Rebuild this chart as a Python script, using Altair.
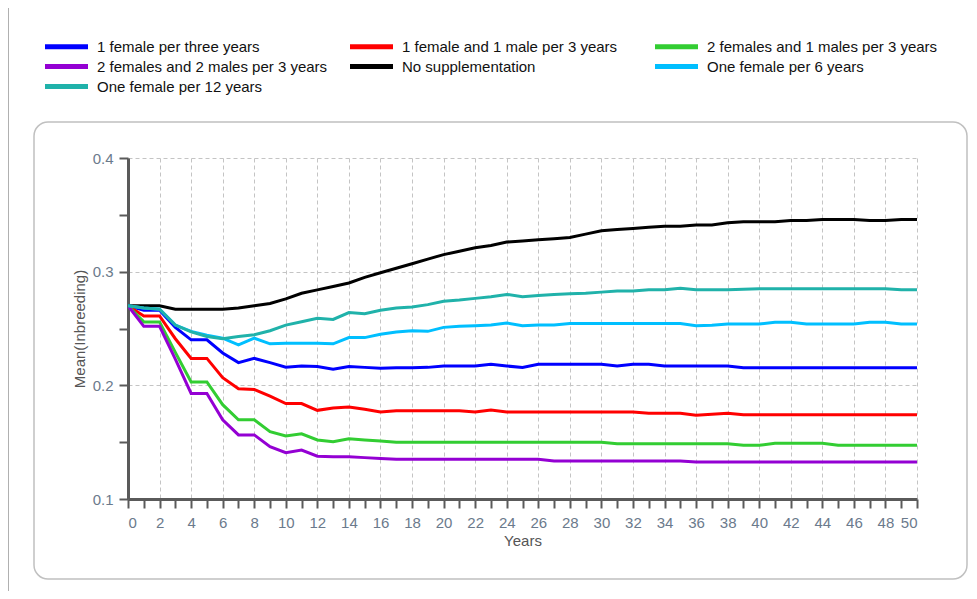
import altair as alt
import pandas as pd

years = list(range(51))

series_names = [
    "1 female per three years",
    "1 female and 1 male per 3 years",
    "2 females and 1 males per 3 years",
    "2 females and 2 males per 3 years",
    "No supplementation",
    "One female per 6 years",
    "One female per 12 years",
]
series_colors = ["#0000FF", "#FF0000", "#32CD32", "#9400D3", "#000000", "#00BFFF", "#20B2AA"]

one_female_3y = [0.270, 0.266, 0.266, 0.251, 0.240, 0.240, 0.2285, 0.220, 0.2237, 0.220,
                 0.216, 0.217, 0.2166, 0.2142, 0.2166, 0.2158, 0.215, 0.2155, 0.2155, 0.2158,
                 0.217, 0.217, 0.217, 0.2185, 0.217, 0.2158, 0.2185, 0.2185, 0.2185, 0.2185,
                 0.2185, 0.217, 0.2185, 0.2185, 0.217, 0.217, 0.217, 0.217, 0.217, 0.2155,
                 0.2155, 0.2155, 0.2155, 0.2155, 0.2155, 0.2155, 0.2155, 0.2155, 0.2155, 0.2155,
                 0.2155]
one_f_one_m_3y = [0.270, 0.261, 0.261, 0.241, 0.2237, 0.2237, 0.2068, 0.197, 0.1964, 0.1905,
                  0.184, 0.184, 0.178, 0.1801, 0.181, 0.1789, 0.1765, 0.1777, 0.1777, 0.1777,
                  0.1777, 0.1777, 0.1765, 0.1783, 0.1765, 0.1765, 0.1765, 0.1765, 0.1765, 0.1765,
                  0.1765, 0.1765, 0.1765, 0.1754, 0.1754, 0.1754, 0.1736, 0.1745, 0.1755, 0.1742,
                  0.1742, 0.1742, 0.1742, 0.1742, 0.1742, 0.1742, 0.1742, 0.1742, 0.1742, 0.1742,
                  0.1742]
two_f_one_m_3y = [0.270, 0.2558, 0.2558, 0.229, 0.203, 0.203, 0.183, 0.1697, 0.1697, 0.1593,
                  0.1555, 0.1573, 0.1519, 0.1504, 0.153, 0.152, 0.151, 0.150, 0.150, 0.150,
                  0.150, 0.150, 0.150, 0.150, 0.150, 0.150, 0.150, 0.150, 0.150, 0.150,
                  0.150, 0.1487, 0.1487, 0.1487, 0.1487, 0.1487, 0.1487, 0.1487, 0.1487, 0.1472,
                  0.1472, 0.149, 0.149, 0.149, 0.149, 0.1472, 0.1472, 0.1472, 0.1472, 0.1472,
                  0.1472]
two_f_two_m_3y = [0.270, 0.2519, 0.2519, 0.2231, 0.1929, 0.1929, 0.1697, 0.1564, 0.1564, 0.146,
                  0.1407, 0.143, 0.1377, 0.1371, 0.1371, 0.1364, 0.1356, 0.1349, 0.1349, 0.1349,
                  0.1349, 0.1349, 0.1349, 0.1349, 0.1349, 0.1349, 0.1349, 0.1334, 0.1334, 0.1334,
                  0.1334, 0.1334, 0.1334, 0.1334, 0.1334, 0.1334, 0.1326, 0.1326, 0.1326, 0.1326,
                  0.1326, 0.1326, 0.1326, 0.1326, 0.1326, 0.1326, 0.1326, 0.1326, 0.1326, 0.1326,
                  0.1326]
no_supplementation = [0.270, 0.270, 0.270, 0.267, 0.267, 0.267, 0.267, 0.268, 0.270, 0.272,
                      0.276, 0.281, 0.284, 0.287, 0.290, 0.295, 0.299, 0.303, 0.307, 0.311,
                      0.315, 0.318, 0.321, 0.323, 0.326, 0.327, 0.328, 0.329, 0.330, 0.333,
                      0.336, 0.337, 0.338, 0.339, 0.340, 0.340, 0.341, 0.341, 0.343, 0.344,
                      0.344, 0.344, 0.345, 0.345, 0.346, 0.346, 0.346, 0.345, 0.345, 0.346,
                      0.346]
one_female_6y = [0.270, 0.268, 0.267, 0.253, 0.2475, 0.244, 0.2415, 0.2356, 0.2415, 0.2365,
                 0.237, 0.237, 0.237, 0.2365, 0.242, 0.242, 0.245, 0.247, 0.248, 0.2475,
                 0.251, 0.252, 0.2525, 0.253, 0.2548, 0.2525, 0.253, 0.253, 0.2543, 0.2543,
                 0.2543, 0.2543, 0.2543, 0.2543, 0.2543, 0.2543, 0.2525, 0.2528, 0.254, 0.254,
                 0.254, 0.2554, 0.2554, 0.254, 0.254, 0.254, 0.254, 0.2555, 0.2555, 0.254,
                 0.254]
one_female_12y = [0.270, 0.268, 0.267, 0.253, 0.247, 0.243, 0.241, 0.243, 0.2445, 0.248,
                  0.253, 0.256, 0.259, 0.258, 0.264, 0.263, 0.266, 0.268, 0.269, 0.271,
                  0.274, 0.275, 0.2765, 0.278, 0.280, 0.278, 0.279, 0.280, 0.2805, 0.281,
                  0.282, 0.283, 0.283, 0.284, 0.284, 0.2855, 0.284, 0.284, 0.284, 0.2845,
                  0.285, 0.285, 0.285, 0.285, 0.285, 0.285, 0.285, 0.285, 0.285, 0.284,
                  0.284]

x_ticks = list(range(0, 51))
y_ticks = [0.1, 0.15, 0.2, 0.25, 0.3, 0.35, 0.4]

all_series = [one_female_3y, one_f_one_m_3y, two_f_one_m_3y, two_f_two_m_3y,
              no_supplementation, one_female_6y, one_female_12y]

rows = []
for name, vals in zip(series_names, all_series):
    for yr, v in zip(years, vals):
        rows.append({"Years": yr, "Inbreeding": v, "Series": name})
df = pd.DataFrame(rows)

# legend grid in Vega fills column-wise here; reorder the domain so the
# entries read row by row as in the reference
order_idx = [0, 3, 5, 1, 4, 6, 2]
legend_domain = [series_names[i] for i in order_idx]
legend_colors = [series_colors[i] for i in order_idx]

FONT = "Liberation Sans"
AXIS_COLOR = "#5a5a5a"
LABEL_COLOR = "#6b7a8c"
GRID_COLOR = "#c4c4c4"

box = alt.Chart(alt.Data(values=[{"a": 1}])).mark_rect(
    fill="transparent", stroke="#c0c0c0", strokeWidth=1.5, cornerRadius=14
).encode(
    x=alt.value(-94), x2=alt.value(839), y=alt.value(-36), y2=alt.value(421)
)

frame = alt.Chart(alt.Data(values=[{"a": 1}])).mark_rule(
    color="#b0b0b0", strokeWidth=1
).encode(
    x=alt.value(-119.5), y=alt.value(-150), y2=alt.value(445)
)

lines = alt.Chart(df).mark_line(strokeWidth=3, clip=True).encode(
    x=alt.X(
        "Years:Q",
        scale=alt.Scale(domain=[0, 50], nice=False, zero=False),
        axis=alt.Axis(
            title="Years",
            values=x_ticks,
            labelExpr="datum.value % 2 == 0 ? datum.label : ''",
            labelOverlap=False,
            gridOpacity={"condition": {"test": "datum.value % 2 == 0", "value": 1}, "value": 0},
        ),
    ),
    y=alt.Y(
        "Inbreeding:Q",
        scale=alt.Scale(domain=[0.1, 0.4], nice=False, zero=False),
        axis=alt.Axis(
            title="Mean(Inbreeding)",
            values=y_ticks,
            format=".1f",
            labelExpr="abs(datum.value * 10 - round(datum.value * 10)) < 0.001 ? datum.label : ''",
            labelOverlap=False,
            gridOpacity={"condition": {"test": "abs(datum.value * 10 - round(datum.value * 10)) < 0.001", "value": 1}, "value": 0},
        ),
    ),
    color=alt.Color(
        "Series:N",
        scale=alt.Scale(domain=legend_domain, range=legend_colors),
        legend=alt.Legend(
            title=None,
            orient="none",
            legendX=-69,
            legendY=-119,
            columns=3,
            gridAlign="all",
            columnPadding=12,
            rowPadding=-1,
            symbolType="M-4.3,0H4.3",
            symbolSize=100,
            symbolStrokeWidth=5,
            labelOffset=23,
            labelFont=FONT,
            labelFontSize=15,
            labelColor="#111111",
            labelLimit=400,
            padding=0,
        ),
    ),
)

chart = alt.layer(box, frame, lines).properties(
    width=789,
    height=341,
    autosize=alt.AutoSizeParams(type="none"),
    padding={"left": 120, "top": 150, "right": 52, "bottom": 92},
    background="white",
).configure_view(
    stroke=None
).configure_axis(
    domainColor=AXIS_COLOR,
    domainWidth=3,
    tickColor=AXIS_COLOR,
    tickWidth=2,
    tickSize=9,
    labelFont=FONT,
    labelFontSize=15,
    labelColor=LABEL_COLOR,
    titleFont=FONT,
    titleFontSize=15,
    titleFontWeight="normal",
    titleColor="#555555",
    gridColor=GRID_COLOR,
    gridDash=[4, 3],
    gridWidth=1,
).configure_axisX(
    labelPadding=7,
    titlePadding=3,
).configure_axisY(
    labelPadding=6,
    titlePadding=5,
)

chart.save("out.html", embed_options={"renderer": "svg", "actions": False})
